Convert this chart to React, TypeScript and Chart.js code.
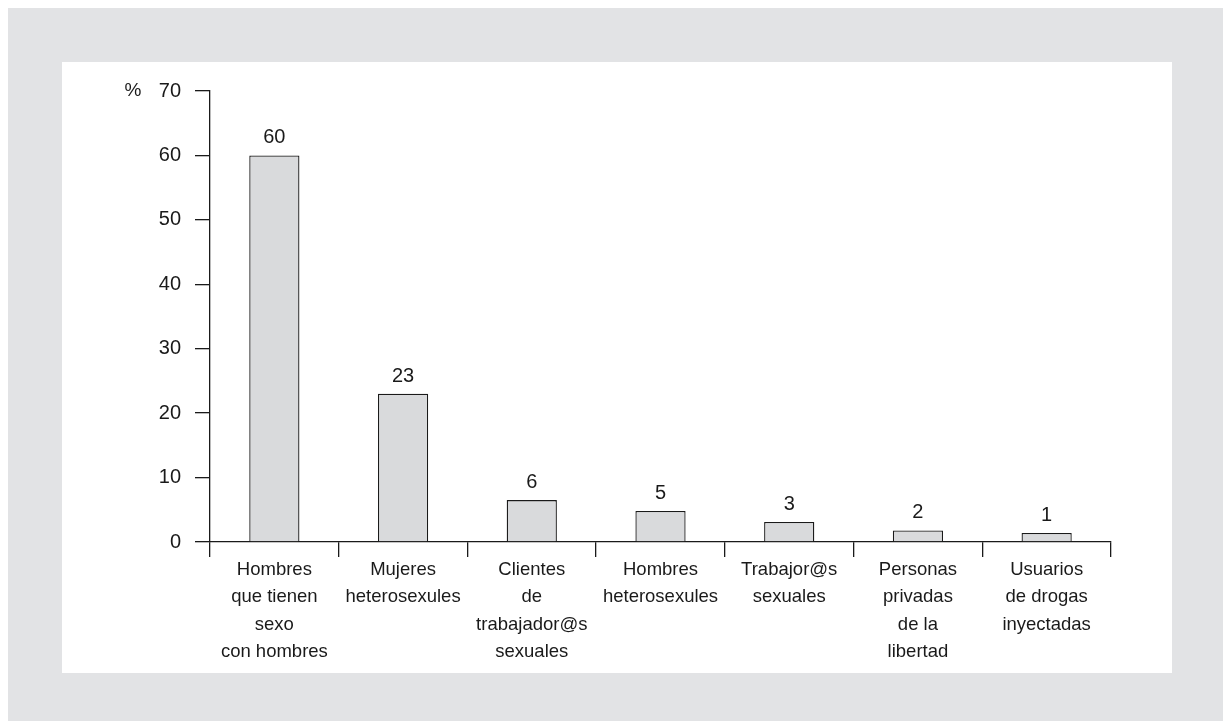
import React, { useEffect, useRef } from "react";
import { Chart, registerables } from "chart.js";

Chart.register(...registerables);

const categories: string[][] = [
  ["Hombres", "que tienen", "sexo", "con hombres"],
  ["Mujeres", "heterosexules"],
  ["Clientes", "de", "trabajador@s", "sexuales"],
  ["Hombres", "heterosexules"],
  ["Trabajor@s", "sexuales"],
  ["Personas", "privadas", "de la", "libertad"],
  ["Usuarios", "de drogas", "inyectadas"],
];
const values: number[] = [60, 23, 6.5, 4.8, 3.1, 1.8, 1.4];
const valueLabels: string[] = ["60", "23", "6", "5", "3", "2", "1"];
const yTicks: number[] = [0, 10, 20, 30, 40, 50, 60, 70];
const unitLabel = "%";

const FONT = "'Liberation Sans', Arial, Helvetica, sans-serif";
const TEXT = "#1a1a1a";

const labelPlugin = {
  id: "valueLabels",
  afterDatasetsDraw(chart: any) {
    const ctx = chart.ctx;
    const meta = chart.getDatasetMeta(0);
    ctx.save();
    ctx.font = `20px ${FONT}`;
    ctx.fillStyle = TEXT;
    ctx.textAlign = "center";
    ctx.textBaseline = "alphabetic";
    meta.data.forEach((bar: any, i: number) => {
      ctx.fillText(valueLabels[i], bar.x, bar.y - 12);
    });
    // unit label
    const ys = chart.scales.y;
    ctx.textBaseline = "middle";
    ctx.font = `19px ${FONT}`;
    ctx.fillText(unitLabel, chart.chartArea.left - 77, ys.getPixelForValue(70));
    ctx.restore();
  },
};

export default function App() {
  const ref = useRef<HTMLCanvasElement>(null);
  useEffect(() => {
    if (!ref.current) return;
    const chart = new Chart(ref.current, {
      type: "bar",
      data: {
        labels: categories,
        datasets: [
          {
            data: values,
            backgroundColor: "#d9dadc",
            borderColor: "#1a1a1a",
            borderWidth: 1.3,
            borderSkipped: "bottom",
            barPercentage: 0.39,
            categoryPercentage: 1,
          },
        ],
      },
      options: {
        responsive: false,
        animation: false,
        layout: { padding: { top: 29, right: 61, left: 0, bottom: 0 } },
        plugins: {
          legend: { display: false },
          tooltip: { enabled: false },
        },
        scales: {
          x: {
            offset: true,
            afterFit: (s: any) => {
              s.height = 131;
            },
            border: { display: true, color: "#1a1a1a", width: 1.3 },
            grid: {
              offset: true,
              drawOnChartArea: false,
              drawTicks: true,
              tickLength: 15,
              color: "#1a1a1a",
              lineWidth: 1.3,
            },
            ticks: {
              color: TEXT,
              font: { family: FONT, size: 18.5, lineHeight: 1.48 },
              padding: -1,
              maxRotation: 0,
              autoSkip: false,
            },
          },
          y: {
            min: 0,
            max: 70,
            afterFit: (s: any) => {
              s.width = 148;
            },
            afterBuildTicks: (s: any) => {
              s.ticks = yTicks.map((v) => ({ value: v }));
            },
            border: { display: true, color: "#1a1a1a", width: 1.3 },
            grid: {
              drawOnChartArea: false,
              drawTicks: true,
              tickLength: 15,
              color: "#1a1a1a",
              lineWidth: 1.3,
            },
            ticks: {
              color: TEXT,
              font: { family: FONT, size: 20 },
              padding: 14,
            },
          },
        },
      },
      plugins: [labelPlugin],
    });
    return () => chart.destroy();
  }, []);

  return (
    <div
      style={{
        position: "fixed",
        left: 8,
        top: 8,
        right: 0,
        bottom: 0,
        background: "#e2e3e5",
      }}
    >
      <div
        style={{
          position: "absolute",
          left: 54,
          top: 54,
          width: 1110,
          height: 611,
          background: "#ffffff",
        }}
      >
        <canvas ref={ref} width={1110} height={611} style={{ display: "block" }} />
      </div>
    </div>
  );
}
